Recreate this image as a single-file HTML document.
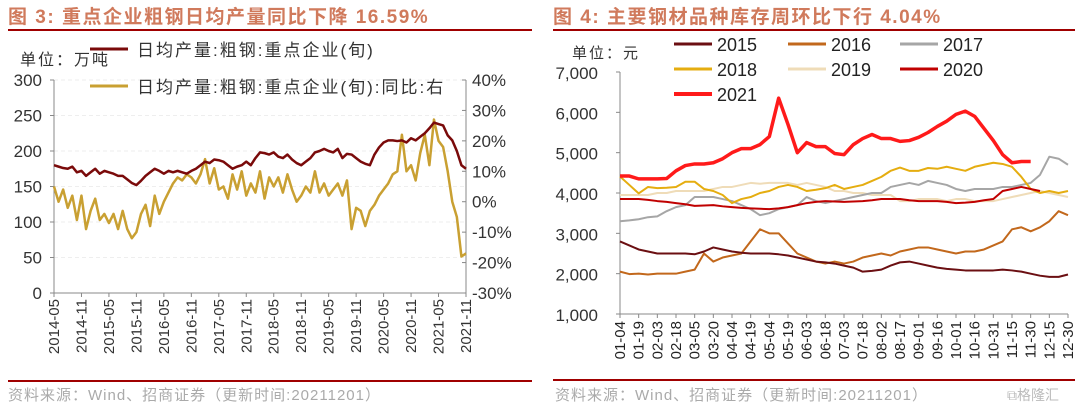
<!DOCTYPE html>
<html><head><meta charset="utf-8">
<style>
body{margin:0;background:#fff;width:1080px;height:410px;overflow:hidden;font-family:"Liberation Sans","Noto Sans CJK SC",sans-serif;}
svg text{font-family:"Liberation Sans","Noto Sans CJK SC",sans-serif;}
</style></head><body>
<svg id="c" width="1080" height="410">
<text x="8" y="23" font-size="19" font-weight="bold" letter-spacing="1.5" fill="#d07a5c">图 3:  重点企业粗钢日均产量同比下降 16.59%</text>
<line x1="8" y1="30" x2="532" y2="30" stroke="#a00000" stroke-width="2"/>
<text x="553" y="23" font-size="19" font-weight="bold" letter-spacing="1.5" fill="#d07a5c">图 4:  主要钢材品种库存周环比下行 4.04%</text>
<line x1="553" y1="30" x2="1075" y2="30" stroke="#a00000" stroke-width="2"/>
<line x1="8" y1="381" x2="532" y2="381" stroke="#a00000" stroke-width="2"/>
<line x1="553" y1="380" x2="1075" y2="380" stroke="#a00000" stroke-width="2"/>
<text x="8" y="400" font-size="15" letter-spacing="1" fill="#aaa">资料来源：Wind、招商证券（更新时间:20211201）</text>
<text x="555" y="400" font-size="15" letter-spacing="1" fill="#aaa">资料来源：Wind、招商证券（更新时间:20211201）</text>
<text x="1007" y="400" font-size="14" fill="#bbb">⧉格隆汇</text>
<text x="20" y="65" font-size="16" letter-spacing="2" fill="#333">单位：万吨</text>
<text x="572" y="58" font-size="15" letter-spacing="2" fill="#333">单位：元</text>
<g id="L"></g><g id="R"></g>
</svg>
<script>
// ---- left chart data ----
const leftCats = ['2014-05','2014-11','2015-05','2015-11','2016-05','2016-11','2017-05','2017-11','2018-05','2018-11','2019-05','2019-11','2020-05','2020-11','2021-05','2021-11'];
const leftTicks = [0,50,100,150,200,250,300];
const rightTicks = ['-30%','-20%','-10%','0%','10%','20%','30%','40%'];
const outputVals = [180,178,176,175,178,170,172,165,170,175,168,172,170,168,165,165,160,155,152,158,165,170,175,172,168,172,170,172,170,168,172,175,180,185,183,188,187,185,180,175,178,180,185,180,190,198,197,195,198,192,190,195,188,183,180,185,190,198,200,203,200,198,203,190,196,195,190,185,182,180,195,205,212,215,215,214,215,212,218,215,220,225,232,240,238,236,222,215,200,180,175];
const yoyVals = [5,0,4,-2,2,-6,2,-9,-3,1,-6,-4,-7,-4,-9,-3,-9,-12,-10,-4,-1,-8,2,-4,0,3,6,8,7,9,8,6,9,14,6,11,4,5,1,9,4,10,2,6,3,10,1,8,5,8,3,9,4,0,2,5,3,10,3,6,2,4,6,2,7,-9,-2,-3,-8,-3,-1,2,4,6,9,10,22,10,12,7,16,22,12,27,20,18,10,0,-5,-18,-17];
// ---- right chart data ----
const dateLabels = ['01-04','01-19','02-03','02-18','03-05','03-20','04-04','04-19','05-04','05-19','06-03','06-18','07-03','07-18','08-02','08-17','09-01','09-16','10-01','10-16','10-31','11-15','11-30','12-15','12-30'];
const invTicks = [1000,2000,3000,4000,5000,6000,7000];
const seriesNames = ['2015','2016','2017','2018','2019','2020','2021'];
const s2015 = [2800,2700,2600,2550,2500,2500,2500,2500,2480,2550,2650,2600,2550,2520,2500,2500,2500,2480,2450,2400,2350,2300,2280,2250,2200,2150,2050,2070,2100,2200,2280,2300,2250,2200,2150,2120,2100,2080,2080,2080,2080,2100,2080,2050,2000,1950,1920,1920,1980];
const s2016 = [2050,1990,2000,1980,2000,2000,2000,2050,2100,2500,2300,2400,2450,2500,2800,3100,3000,3000,2750,2500,2400,2300,2250,2300,2250,2300,2400,2450,2500,2450,2550,2600,2650,2650,2600,2550,2500,2550,2550,2600,2700,2800,3100,3150,3050,3150,3300,3550,3450];
const s2017 = [3300,3320,3350,3400,3420,3550,3650,3700,3900,3900,3900,3850,3800,3700,3600,3450,3500,3600,3650,3700,3900,3800,3750,3800,3850,3900,3950,4000,4000,4150,4200,4250,4200,4300,4250,4200,4100,4050,4100,4100,4100,4150,4150,4200,4250,4450,4900,4850,4700];
const s2018 = [4410,4200,3990,4150,4120,4130,4150,4280,4280,4100,4050,3950,3750,3850,3900,4000,4050,4150,4200,4150,4050,4080,4120,4200,4100,4150,4200,4300,4400,4550,4630,4550,4550,4620,4600,4650,4600,4550,4650,4700,4750,4720,4650,4400,4100,4000,4050,4000,4050];
const s2019 = [3950,3950,3950,3950,4000,4000,4050,4050,4050,4050,4100,4150,4150,4200,4250,4230,4250,4250,4250,4200,4250,4200,4150,4050,4050,4000,4000,3950,3950,3950,3800,3800,3850,3850,3850,3800,3850,3850,3800,3800,3800,3850,3900,3950,4000,4050,4000,3950,3900];
const s2020 = [3850,3850,3850,3830,3800,3780,3750,3720,3680,3690,3700,3670,3650,3630,3620,3610,3600,3620,3650,3700,3750,3780,3800,3790,3780,3790,3800,3820,3850,3850,3850,3820,3800,3800,3800,3780,3750,3760,3780,3820,3850,4050,4100,4150,4100,4050];
const s2021 = [4420,4420,4350,4350,4350,4360,4550,4680,4720,4720,4750,4850,5000,5100,5100,5200,5400,6350,5700,5000,5250,5150,5150,4980,4950,5200,5350,5450,5350,5350,5280,5300,5380,5500,5650,5780,5950,6030,5900,5600,5300,4950,4750,4780,4780];

const NS='http://www.w3.org/2000/svg';
function mk(p,tag,at){const e=document.createElementNS(NS,tag);for(const k in at)e.setAttribute(k,at[k]);p.appendChild(e);return e;}
function txt(p,x,y,s,at){const e=mk(p,'text',Object.assign({x:x,y:y},at));e.textContent=s;return e;}

// ===== Left chart =====
const L=document.getElementById('L');
const lx0=54,lx1=466,ly0=293,ly1=80;
const xL=i=>lx0+(lx1-lx0)*i/(outputVals.length-1);
const yL=v=>ly0-(ly0-ly1)*v/300;
const yR=v=>ly0-(ly0-ly1)*(v+30)/70;
leftTicks.forEach(t=>{
  if(t>0){const g=mk(L,'line',{x1:lx0,x2:lx1,y1:yL(t),y2:yL(t),stroke:'#eee','stroke-dasharray':'4,3'});
  
  }
  const tk=mk(L,'line',{x1:lx0-4,x2:lx0,y1:yL(t),y2:yL(t),stroke:'#888'});
  
  
  const lb=txt(L,42,yL(t)+6,String(t),{'font-size':17,'text-anchor':'end',fill:'#333'});
  
  
});
rightTicks.forEach((t,i)=>{
  const y=yR(-30+10*i);
  const tk=mk(L,'line',{x1:lx1,x2:lx1-4,y1:y,y2:y,stroke:'#888'});
  
  
  const lb=txt(L,472,y+6,t,{'font-size':17,fill:'#333'});
  
  
});
[[lx0,ly1,lx0,ly0],[lx1,ly1,lx1,ly0],[lx0,ly0,lx1,ly0]].forEach(a=>{
  const e=mk(L,'line',{x1:a[0],y1:a[1],x2:a[2],y2:a[3],stroke:'#888'});
  
  
});
leftCats.forEach((c,i)=>{
  const x=xL(i*6);
  const tk=mk(L,'line',{x1:x,x2:x,y1:ly0,y2:ly0+4,stroke:'#888'});
  
  
  const lb=txt(L,0,0,c,{'font-size':15,'text-anchor':'end',fill:'#333',transform:`translate(${x+5},${ly0+6}) rotate(-90)`});
  
  
});
const yoyLine=mk(L,'polyline',{points:yoyVals.map((v,i)=>xL(i)+','+yR(v)).join(' '),fill:'none',stroke:'#c9a032','stroke-width':2.5,'stroke-linejoin':'round'});


const outLine=mk(L,'polyline',{points:outputVals.map((v,i)=>xL(i)+','+yL(v)).join(' '),fill:'none',stroke:'#7a0a0a','stroke-width':2.5,'stroke-linejoin':'round'});


let e;
e=mk(L,'line',{x1:90,x2:128,y1:49,y2:49,stroke:'#7a0a0a','stroke-width':3});


e=txt(L,137,56,'日均产量:粗钢:重点企业(旬)',{'font-size':17,'letter-spacing':2,fill:'#333'});


e=mk(L,'line',{x1:90,x2:128,y1:86,y2:86,stroke:'#c9a032','stroke-width':3});


e=txt(L,137,93,'日均产量:粗钢:重点企业(旬):同比:右',{'font-size':17,'letter-spacing':2,fill:'#333'});



// ===== Right chart =====
const R=document.getElementById('R');
const rx0=620,rx1=1068,ry0=314,ry1=72;
const N=49;
const xR=j=>rx0+(rx1-rx0)*j/(N-1);
const yI=v=>ry0-(ry0-ry1)*(v-1000)/6000;
invTicks.forEach(t=>{
  const tk=mk(R,'line',{x1:rx0-4,x2:rx0,y1:yI(t),y2:yI(t),stroke:'#888'});
  
  
  const lb=txt(R,598,yI(t)+7,t.toLocaleString('en-US'),{'font-size':17,'text-anchor':'end',fill:'#333'});
  
  
});
e=mk(R,'line',{x1:rx0,x2:rx0,y1:ry1,y2:ry0,stroke:'#888'});


e=mk(R,'line',{x1:rx0,x2:rx1,y1:ry0,y2:ry0,stroke:'#888'});


dateLabels.forEach((d,i)=>{
  const x=xR(i*2);
  const tk=mk(R,'line',{x1:x,x2:x,y1:ry0,y2:ry0+4,stroke:'#888'});
  
  
  const lb=txt(R,0,0,d,{'font-size':15,'text-anchor':'end',fill:'#222',transform:`translate(${x+5},${ry0+7}) rotate(-90)`});
  
  
});
const allSeries=[s2015,s2016,s2017,s2018,s2019,s2020,s2021];
const colors=['#6b0f12','#c2681c','#a6a6a6','#e5ad10','#efdcb8','#c00000','#ff1a1a'];
const widths=[2,2,2,2,2,2,3.5];
const drawOrder=[4,2,3,5,1,0,6];
drawOrder.forEach(k=>{
  const p=mk(R,'polyline',{points:allSeries[k].map((v,j)=>xR(j)+','+yI(v)).join(' '),fill:'none',stroke:colors[k],'stroke-width':widths[k],'stroke-linejoin':'round'});
  
  
});
const legX=[674,788,900],legY=[44,69,94];
seriesNames.forEach((n,k)=>{
  const cx=legX[k%3],cy=legY[Math.floor(k/3)];
  const sw=mk(R,'line',{x1:cx,x2:cx+38,y1:cy,y2:cy,stroke:colors[k],'stroke-width':k===6?4:3});
  
  
  const lb=txt(R,cx+43,cy+7,n,{'font-size':18,fill:'#222'});
  
  
});
</script>
</body></html>
